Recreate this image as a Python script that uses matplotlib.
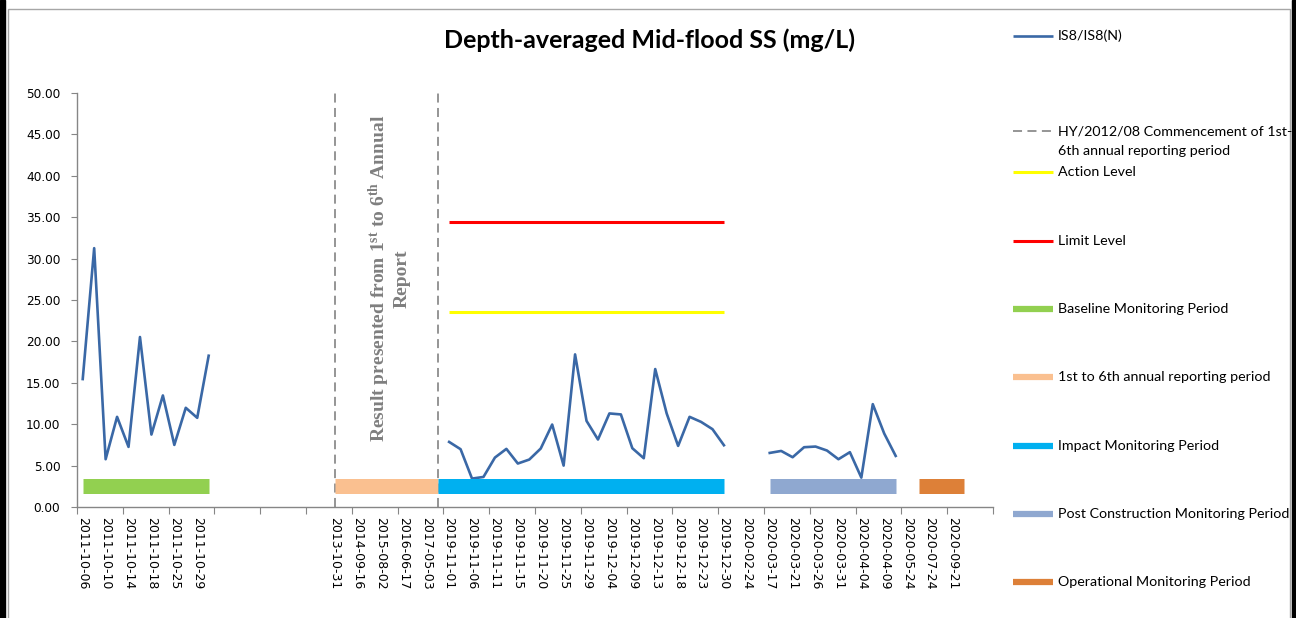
import numpy as np
import matplotlib
matplotlib.use("Agg")
import matplotlib.pyplot as plt
from matplotlib.lines import Line2D
from matplotlib.patches import Rectangle

plt.rcParams['mathtext.fontset'] = 'custom'
plt.rcParams['mathtext.rm'] = 'Liberation Serif:bold'
plt.rcParams['mathtext.it'] = 'Liberation Serif:bold'
plt.rcParams['mathtext.bf'] = 'Liberation Serif:bold'

# category axis: one slot per sampling date, every other date labelled
N_CATS = 80
DATE_LABELS = ['2011-10-06', '2011-10-10', '2011-10-14', '2011-10-18', '2011-10-25', '2011-10-29',
               '', '', '', '', '',
               '2013-10-31', '2014-09-16', '2015-08-02', '2016-06-17', '2017-05-03',
               '2019-11-01', '2019-11-06', '2019-11-11', '2019-11-15', '2019-11-20', '2019-11-25',
               '2019-11-29', '2019-12-04', '2019-12-09', '2019-12-13', '2019-12-18', '2019-12-23',
               '2019-12-30', '2020-02-24', '2020-03-17', '2020-03-21', '2020-03-26', '2020-03-31',
               '2020-04-04', '2020-04-09', '2020-05-24', '2020-07-24', '2020-09-21']

# IS8/IS8(N) depth-averaged SS, mg/L
BASELINE_START = 0
baseline_ss = [15.45, 31.26, 5.77, 10.89, 7.26, 20.53, 8.75, 13.47, 7.50, 11.98, 10.77, 18.27]
IMPACT_START = 32
impact_ss = [7.86, 6.98, 3.43, 3.63, 5.97, 7.02, 5.25, 5.73, 7.06, 9.96, 5.00, 18.43, 10.40,
             8.15, 11.30, 11.18, 7.10, 5.89, 16.66, 11.30, 7.38, 10.89, 10.28, 9.40, 7.46]
POST_START = 60
post_ss = [6.53, 6.77, 6.01, 7.22, 7.30, 6.82, 5.77, 6.62, 3.55, 12.42, 8.87, 6.17]

ACTION_LEVEL = 23.5
LIMIT_LEVEL = 34.4
LEVEL_SPAN = (32, 56)

# HY/2012/08 reporting period markers
REPORT_MARKERS = [22, 31]

# monitoring periods (first category, last category)
PERIOD_LEVEL = 2.5
periods = [
    ('Baseline Monitoring Period', (0, 11), '#92D050'),
    ('1st to 6th annual reporting period', (22, 31), '#FAC090'),
    ('Impact Monitoring Period', (31, 56), '#00B0F0'),
    ('Post Construction Monitoring Period', (60, 71), '#8FA8D0'),
    ('Operational Monitoring Period', (73, 77), '#DD8038'),
]

W, H = 1296, 618
fig = plt.figure(figsize=(W / 100, H / 100), dpi=100)
ax = fig.add_axes([77 / W, 1 - 507 / H, (993 - 77) / W, (507 - 93) / H])

BLUE = '#3A68A6'
GREY = '#868686'
DASH_GREY = '#8C8C8C'

for start, vals in [(BASELINE_START, baseline_ss), (IMPACT_START, impact_ss), (POST_START, post_ss)]:
    xs = np.arange(start, start + len(vals))
    ax.plot(xs, vals, color=BLUE, lw=1.9, zorder=4)

for name, (a, b), col in periods:
    ax.plot([a, b], [PERIOD_LEVEL, PERIOD_LEVEL], color=col, lw=10.8,
            solid_capstyle='butt', zorder=5)

ax.plot(LEVEL_SPAN, [ACTION_LEVEL] * 2, color='#FFFF00', lw=2.2, solid_capstyle='butt', zorder=3)
ax.plot(LEVEL_SPAN, [LIMIT_LEVEL] * 2, color='#FF0000', lw=2.2, solid_capstyle='butt', zorder=3)

for m in REPORT_MARKERS:
    ax.axvline(m, color=DASH_GREY, lw=1.3, dashes=(5, 3), zorder=2)

ax.text(np.mean(REPORT_MARKERS) + 0.25, 27.6,
        'Result presented from 1$^{\\rm st}$ to 6$^{\\rm th}$ Annual\nReport',
        rotation=90, ha='center', va='center', color='#7F7F7F',
        family='Liberation Serif', fontweight='bold', fontsize=14,
        multialignment='center', linespacing=1.15, zorder=6)

ax.set_xlim(-0.5, N_CATS - 0.5)
ax.set_ylim(0, 50)
ax.set_yticks(np.arange(0, 50.1, 5))
ax.set_yticklabels([f'{v:.2f}' for v in np.arange(0, 50.1, 5)])
ax.set_xticks(np.arange(-0.5, N_CATS, 4))
ax.set_xticklabels([])
ax.set_xticks(np.arange(0, 2 * len(DATE_LABELS), 2), DATE_LABELS, minor=True)
ax.tick_params(axis='x', which='minor', length=0, pad=7, labelsize=9, rotation=270)
ax.tick_params(axis='x', which='major', length=5, color=GREY, direction='out')
ax.tick_params(axis='y', length=4, color=GREY, labelsize=8.7, pad=8)
for lab in ax.get_xticklabels(minor=True):
    lab.set_va('top')
    lab.set_ha('center')

for s in ['top', 'right']:
    ax.spines[s].set_visible(False)
for s in ['left', 'bottom']:
    ax.spines[s].set_color(GREY)
    ax.spines[s].set_linewidth(1.0)

fig.text(650 / W, 1 - 40 / H, 'Depth-averaged Mid-flood SS (mg/L)', ha='center', va='center',
         fontsize=18, fontweight='bold', family='Lato')

# legend down the right-hand side: (label lines, colour, width, dashed, row y in px)
legend_rows = [
    (['IS8/IS8(N)'], BLUE, 1.9, False, 36),
    (['HY/2012/08 Commencement of 1st-', '6th annual reporting period'], DASH_GREY, 1.3, True, 131),
    (['Action Level'], '#FFFF00', 2.2, False, 172),
    (['Limit Level'], '#FF0000', 2.2, False, 241),
]
for i, (name, _, col) in enumerate(periods):
    legend_rows.append(([name], col, 4.5, False, 309 + i * 68.3))

for lines, col, lw, dashed, py in legend_rows:
    y = 1 - py / H
    ln = Line2D([1013 / W, 1053 / W], [y, y], transform=fig.transFigure,
                color=col, lw=lw, solid_capstyle='butt', dash_capstyle='butt')
    if dashed:
        ln.set_dashes((5, 3))
    fig.add_artist(ln)
    for k, line in enumerate(lines):
        fig.text(1058 / W, 1 - (py + 20 * k) / H, line, ha='left', va='center',
                 fontsize=10.3, family='Lato')

# chart frame
fig.add_artist(Rectangle((8 / W, -0.1), (1290 - 8) / W, 1 - 9 / H + 0.1, transform=fig.transFigure,
                         fill=False, edgecolor='#A6A6A6', lw=1.0))
fig.add_artist(Rectangle((0, 0), 5 / W, 1, transform=fig.transFigure, color='black'))
fig.add_artist(Rectangle((1292 / W, 0), 4 / W, 1, transform=fig.transFigure, color='black'))

fig.savefig('out.png', dpi=100)
